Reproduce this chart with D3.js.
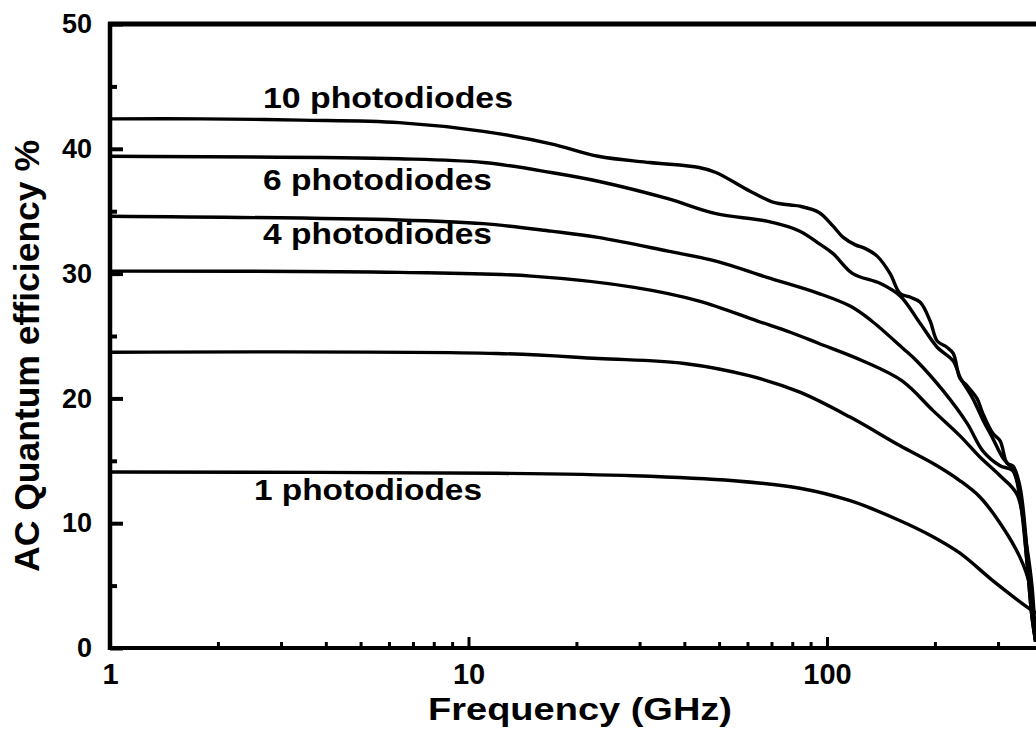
<!DOCTYPE html>
<html>
<head>
<meta charset="utf-8">
<script src="https://cdn.jsdelivr.net/npm/d3@7"></script>
<style>
  body { margin: 0; background: #fff; }
  text { font-family: "Liberation Sans", Arial, Helvetica, sans-serif; font-weight: bold; fill: #000; }
</style>
</head>
<body>
<script>
// data: [frequency GHz, AC quantum efficiency %]
const pd10 = [[1,42.4],[1.8,42.4],[3.4,42.3],[6.4,42.1],[11,41.4],[17,40.4],[23,39.4],[32,38.9],[44,38.5],[49,38.1],[61,36.6],[71,35.7],[79,35.5],[84,35.4],[95,34.9],[104,33.8],[111,32.9],[120,32.3],[128,32.0],[138,31.4],[150,30.0],[160,28.4],[171,28.1],[182,27.7],[194,26.2],[203,24.6],[216,24.1],[225,23.6],[235,21.6],[246,21.0],[262,20.0],[272,18.8],[290,17.2],[304,16.6],[318,14.8],[330,14.6],[345,13.0],[361,8.0],[373,3.0],[382,0.5]];
const pd6 = [[1,39.4],[6.4,39.2],[11,38.9],[17,38.1],[23,37.4],[36,36.0],[49,34.8],[68,34.2],[84,33.4],[95,32.4],[104,31.6],[118,30.0],[141,29.2],[160,28.2],[182,26.0],[203,24.1],[225,23.0],[235,21.7],[255,20.0],[272,18.3],[290,16.8],[310,15.2],[330,14.3],[345,12.5],[361,7.0],[373,2.5],[382,0.5]];
const pd4 = [[1,34.6],[6.4,34.3],[11,34.0],[17,33.4],[23,32.9],[36,31.8],[49,31.0],[68,29.7],[95,28.4],[116,27.4],[132,26.3],[163,24.0],[178,23.0],[211,20.6],[246,18.0],[272,15.8],[304,14.6],[330,14.2],[345,12.0],[361,7.0],[373,2.5],[382,0.5]];
const pd3 = [[1,30.2],[6.4,30.1],[15,29.8],[29,28.9],[44,27.8],[64,26.2],[79,25.3],[95,24.4],[126,23.0],[162,21.4],[198,19.0],[235,17.0],[267,15.3],[304,13.8],[339,12.3],[361,8.1],[373,5.0],[382,0.5]];
const pd2 = [[1,23.7],[12,23.6],[23,23.2],[40,22.8],[61,21.8],[84,20.5],[116,18.5],[160,16.2],[200,14.7],[235,13.4],[267,12.1],[304,10.0],[345,7.3],[368,5.0],[376,2.5],[382,0.5]];
const pd1 = [[1,14.1],[12,14.0],[29,13.8],[55,13.4],[84,12.8],[116,11.8],[160,10.2],[198,8.9],[235,7.6],[290,5.4],[361,3.3],[383,2.8]];

const curveLabels = ["10 photodiodes", "6 photodiodes", "4 photodiodes", "1 photodiodes"];
const yTicks = [0, 10, 20, 30, 40, 50];
const yMinor = [5, 15, 25, 35, 45];
const xTicks = [1, 10, 100];
const xMinor = [2, 3, 4, 5, 6, 7, 8, 9, 20, 30, 40, 50, 60, 70, 80, 90, 200, 300];

const width = 1036, height = 729;

const svg = d3.select("body").append("svg")
  .attr("width", width)
  .attr("height", height);

// log x (the figure is cut on the right), linear y
const x = d3.scaleLog().domain([1, 100]).range([110, 827]);
const y = d3.scaleLinear().domain([0, 50]).range([648, 24]);

// y axis: labels + major ticks pointing inward
const yAxis = svg.append("g")
  .attr("transform", "translate(110,0)")
  .call(d3.axisLeft(y).tickValues(yTicks).tickSize(-13).tickPadding(18).tickFormat(d3.format("d")));
yAxis.select(".domain").remove();
yAxis.selectAll("line").attr("stroke", "#000").attr("stroke-width", 4);
yAxis.selectAll("text").style("font-size", "27px");

const yAxisMinor = svg.append("g")
  .attr("transform", "translate(110,0)")
  .call(d3.axisLeft(y).tickValues(yMinor).tickSize(-7).tickFormat(""));
yAxisMinor.select(".domain").remove();
yAxisMinor.selectAll("line").attr("stroke", "#000").attr("stroke-width", 4);

// x axis
const xAxis = svg.append("g")
  .attr("transform", "translate(0,648)")
  .call(d3.axisBottom(x).tickValues(xTicks).tickSize(-11).tickPadding(15).tickFormat(d3.format("d")));
xAxis.select(".domain").remove();
xAxis.selectAll("line").attr("stroke", "#000").attr("stroke-width", 3);
xAxis.selectAll("text").style("font-size", "29px");

const xAxisMinor = svg.append("g")
  .attr("transform", "translate(0,648)")
  .call(d3.axisBottom(x).tickValues(xMinor).tickSize(-6).tickFormat(""));
xAxisMinor.select(".domain").remove();
xAxisMinor.selectAll("line").attr("stroke", "#000").attr("stroke-width", 3);

// frame
svg.append("line").attr("x1", 108).attr("x2", width).attr("y1", y(50)).attr("y2", y(50))
  .attr("stroke", "#000").attr("stroke-width", 5);
svg.append("line").attr("x1", 110).attr("x2", 110).attr("y1", y(50) - 2).attr("y2", y(0) + 2)
  .attr("stroke", "#000").attr("stroke-width", 4.5);
svg.append("line").attr("x1", 108).attr("x2", width).attr("y1", y(0)).attr("y2", y(0))
  .attr("stroke", "#000").attr("stroke-width", 4);

// curves
const line = d3.line()
  .x((d) => x(d[0]))
  .y((d) => y(d[1]))
  .curve(d3.curveCatmullRom.alpha(0.5));

svg.selectAll(".curve")
  .data([pd10, pd6, pd4, pd3, pd2, pd1])
  .enter()
  .append("path")
  .attr("class", "curve")
  .attr("fill", "none")
  .attr("stroke", "#000")
  .attr("stroke-width", 3.4)
  .attr("stroke-linejoin", "round")
  .attr("d", line);

// curve labels
const labelPos = [[263, 108, 250], [263, 190, 229], [263, 244, 229], [254, 500, 228]];
svg.selectAll(".clabel")
  .data(curveLabels)
  .enter()
  .append("text")
  .attr("class", "clabel")
  .attr("x", (d, i) => labelPos[i][0])
  .attr("y", (d, i) => labelPos[i][1])
  .attr("textLength", (d, i) => labelPos[i][2])
  .attr("lengthAdjust", "spacingAndGlyphs")
  .style("font-size", "29px")
  .text((d) => d);

// axis titles
svg.append("text")
  .attr("x", 428)
  .attr("y", 720)
  .attr("textLength", 304)
  .attr("lengthAdjust", "spacingAndGlyphs")
  .style("font-size", "31px")
  .text("Frequency (GHz)");

svg.append("text")
  .attr("transform", "translate(39,356) rotate(-90)")
  .attr("text-anchor", "middle")
  .attr("textLength", 432)
  .attr("lengthAdjust", "spacingAndGlyphs")
  .style("font-size", "35px")
  .text("AC Quantum efficiency %");
</script>
</body>
</html>
